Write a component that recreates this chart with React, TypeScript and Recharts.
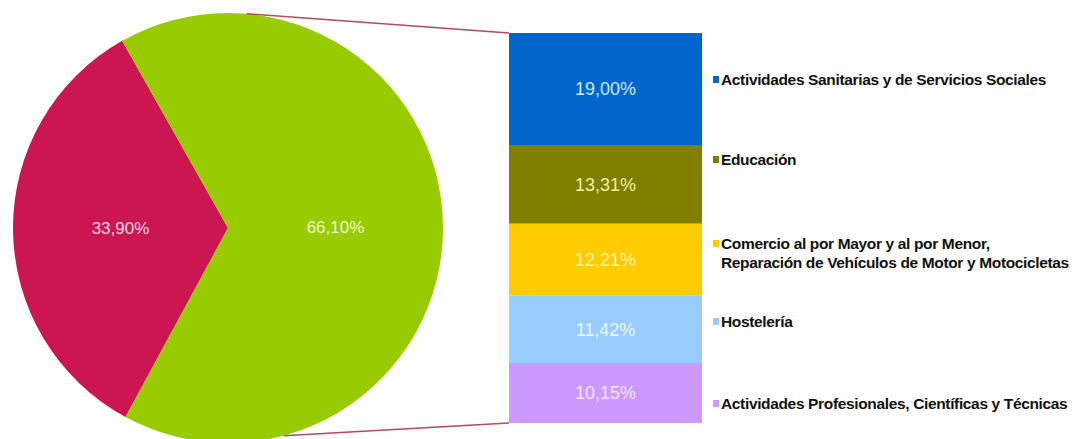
import { Bar, BarChart, Cell, LabelList, Pie, PieChart, XAxis, YAxis } from 'recharts';

// pie: share of the five main sectors vs the rest
const pieNames = ['Resto de sectores', 'Cinco sectores principales'];
const pieValues = [33.9, 66.1];
const pieColors = ['#cc1652', '#99cc00'];
const pieLabelColors = ['#f8d4e0', '#f0f8cc'];

// stacked bar: breakdown of the 66,10% slice
const barNames = [
  'Actividades Sanitarias y de Servicios Sociales',
  'Educación',
  'Comercio al por Mayor y al por Menor,\nReparación de Vehículos de Motor y Motocicletas',
  'Hostelería',
  'Actividades Profesionales, Científicas y Técnicas',
];
const barValues = [19.0, 13.31, 12.21, 11.42, 10.15];
const barColors = ['#0066cc', '#808000', '#ffcc00', '#99ccff', '#cc99ff'];
const barLabelColors = ['#d2e8ff', '#f2eea4', '#fff0a8', '#eef6ff', '#f4e4ff'];

// layout
const W = 1080;
const H = 439;
const PIE_CX = 228;
const PIE_CY = 228;
const PIE_R = 215;
const BAR_LEFT = 509;
const BAR_TOP = 33;
const BAR_W = 193;
const BAR_H = 390;
const LEGEND_TOPS = [70, 150, 234, 312, 394];

const fmt = (v: number): string => `${v.toFixed(2).replace('.', ',')}%`;
const font = '"Liberation Sans", Arial, sans-serif';

const pieRows = pieNames.map((name, i) => ({ name, value: pieValues[i] }));
const barRow: Record<string, number | string> = { name: 'sectores' };
barValues.forEach((v, i) => {
  barRow[`s${i}`] = v;
});
const barTotal = barValues.reduce((s, v) => s + v, 0);

function PieLabel(props: any) {
  const { cx, cy, midAngle, outerRadius, value, index } = props;
  const rad = (Math.PI / 180) * midAngle;
  const r = outerRadius * 0.5;
  return (
    <text
      x={cx + r * Math.cos(rad)}
      y={cy - r * Math.sin(rad)}
      fill={pieLabelColors[index]}
      fontSize={17}
      fontFamily={font}
      textAnchor="middle"
      dominantBaseline="central"
    >
      {fmt(value)}
    </text>
  );
}

function Connectors() {
  const pt = (deg: number) => {
    const a = (Math.PI / 180) * deg;
    return [PIE_CX + PIE_R * Math.cos(a), PIE_CY - PIE_R * Math.sin(a)];
  };
  const [x1, y1] = pt(85);
  const [x2, y2] = pt(-75);
  return (
    <svg width={W} height={H} style={{ position: 'absolute', left: 0, top: 0, pointerEvents: 'none' }}>
      <line x1={x1} y1={y1} x2={BAR_LEFT} y2={BAR_TOP} stroke="#b44a5a" strokeWidth={1.5} />
      <line x1={x2} y1={y2} x2={BAR_LEFT} y2={BAR_TOP + BAR_H} stroke="#b44a5a" strokeWidth={1.5} />
    </svg>
  );
}

function SideLegend() {
  return (
    <div
      style={{
        position: 'absolute',
        left: 713,
        top: 0,
        fontFamily: font,
        fontSize: 15.5,
        fontWeight: 'bold',
        color: '#111',
        letterSpacing: -0.35,
      }}
    >
      {barNames.map((name, i) => (
        <div key={name} style={{ position: 'absolute', top: LEGEND_TOPS[i], left: 0, whiteSpace: 'pre', lineHeight: '19px', display: 'flex' }}>
          <span style={{ width: 6, height: 7, background: barColors[i], marginTop: 6, marginRight: 2, flexShrink: 0 }} />
          <span>{name}</span>
        </div>
      ))}
    </div>
  );
}

export default function App() {
  return (
    <div style={{ position: 'absolute', left: 0, top: 0, width: W, height: H, background: '#fff', overflow: 'hidden' }}>
      <div style={{ position: 'absolute', left: 0, top: 0 }}>
        <PieChart width={W} height={H} margin={{ top: 0, right: 0, bottom: 0, left: 0 }}>
          <Pie
            data={pieRows}
            dataKey="value"
            nameKey="name"
            cx={PIE_CX}
            cy={PIE_CY}
            outerRadius={PIE_R}
            startAngle={119.5}
            endAngle={479.5}
            stroke="none"
            label={PieLabel}
            labelLine={false}
            isAnimationActive={false}
          >
            {pieRows.map((r, i) => (
              <Cell key={r.name} fill={pieColors[i]} />
            ))}
          </Pie>
        </PieChart>
      </div>
      <div style={{ position: 'absolute', left: BAR_LEFT, top: BAR_TOP }}>
        <BarChart width={BAR_W} height={BAR_H} data={[barRow]} margin={{ top: 0, right: 0, bottom: 0, left: 0 }} barCategoryGap={0}>
          <XAxis dataKey="name" hide />
          <YAxis hide reversed domain={[0, barTotal]} />
          {barValues.map((_, i) => (
            <Bar key={i} dataKey={`s${i}`} stackId="a" fill={barColors[i]} isAnimationActive={false}>
              <LabelList
                dataKey={`s${i}`}
                position="center"
                formatter={(v: any) => fmt(Number(v))}
                fill={barLabelColors[i]}
                fontSize={18}
                fontFamily={font}
              />
            </Bar>
          ))}
        </BarChart>
      </div>
      <Connectors />
      <SideLegend />
    </div>
  );
}
